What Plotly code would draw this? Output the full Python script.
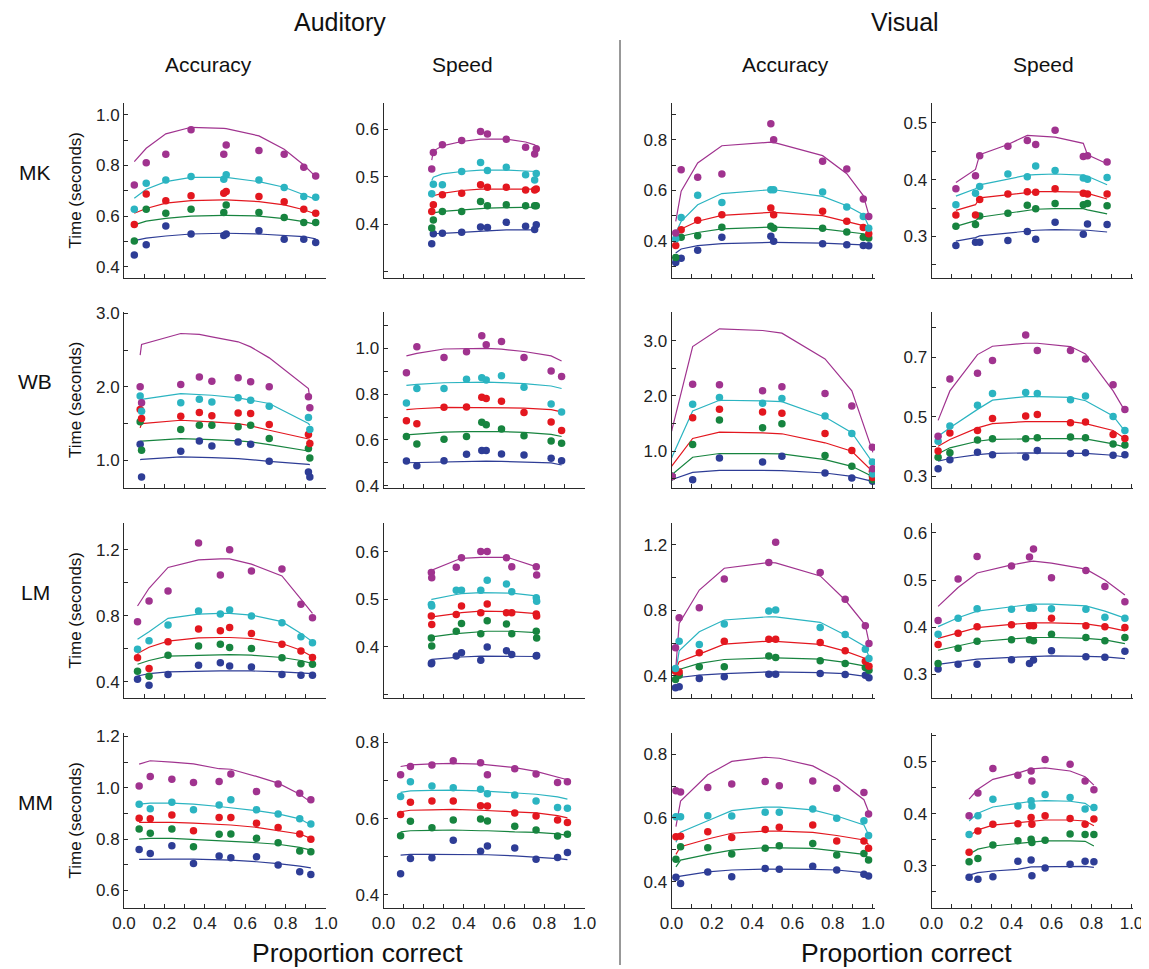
import plotly.graph_objects as go

# ---------------- data (quantile order: .1 .3 .5 .7 .9) ----------------
QUANTILE_COLORS = ["#2e3d96", "#17843f", "#e3171f", "#2bb4c1", "#a0338f"]
SUBJECTS = ["MK", "WB", "LM", "MM"]
MODALITIES = ["Auditory", "Visual"]
CONDITIONS = ["Accuracy", "Speed"]
X_TICKS = [0.0, 0.1, 0.2, 0.3, 0.4, 0.5, 0.6, 0.7, 0.8, 0.9, 1.0]
X_TICK_TEXT = ["0.0", "", "0.2", "", "0.4", "", "0.6", "", "0.8", "", "1.0"]

# MK
MK_AUD_ACC_X = [0.051, 0.110, 0.207, 0.332, 0.494, 0.506, 0.668, 0.793, 0.890, 0.949]
MK_AUD_ACC_OBS = [
    [0.446, 0.486, 0.561, 0.529, 0.523, 0.529, 0.542, 0.508, 0.508, 0.495],
    [0.501, 0.627, 0.611, 0.627, 0.614, 0.644, 0.614, 0.594, 0.574, 0.574],
    [0.567, 0.687, 0.660, 0.680, 0.690, 0.697, 0.677, 0.657, 0.627, 0.611],
    [0.627, 0.730, 0.743, 0.756, 0.745, 0.763, 0.743, 0.713, 0.677, 0.674],
    [0.723, 0.811, 0.844, 0.941, 0.844, 0.881, 0.859, 0.844, 0.793, 0.758]]
MK_AUD_ACC_FIT = [
    [0.503, 0.513, 0.521, 0.529, 0.532, 0.532, 0.529, 0.524, 0.519, 0.510],
    [0.565, 0.580, 0.591, 0.600, 0.603, 0.603, 0.600, 0.590, 0.578, 0.567],
    [0.611, 0.630, 0.651, 0.661, 0.664, 0.664, 0.657, 0.644, 0.625, 0.608],
    [0.670, 0.706, 0.736, 0.753, 0.753, 0.753, 0.736, 0.714, 0.684, 0.666],
    [0.815, 0.868, 0.925, 0.951, 0.947, 0.946, 0.917, 0.864, 0.802, 0.756]]

MK_AUD_SPD_X = [0.240, 0.248, 0.293, 0.389, 0.483, 0.517, 0.611, 0.707, 0.752, 0.760]
MK_AUD_SPD_OBS = [
    [0.359, 0.380, 0.381, 0.383, 0.394, 0.393, 0.404, 0.396, 0.389, 0.399],
    [0.392, 0.409, 0.427, 0.427, 0.448, 0.439, 0.441, 0.439, 0.439, 0.439],
    [0.427, 0.441, 0.462, 0.465, 0.483, 0.478, 0.478, 0.472, 0.472, 0.474],
    [0.464, 0.484, 0.483, 0.511, 0.530, 0.513, 0.520, 0.504, 0.493, 0.507],
    [0.516, 0.551, 0.567, 0.576, 0.595, 0.590, 0.579, 0.562, 0.548, 0.559]]
MK_AUD_SPD_FIT = [
    [0.380, 0.380, 0.381, 0.383, 0.386, 0.386, 0.388, 0.388, 0.388, 0.388],
    [0.422, 0.424, 0.427, 0.430, 0.434, 0.434, 0.435, 0.436, 0.436, 0.436],
    [0.457, 0.460, 0.465, 0.471, 0.474, 0.474, 0.474, 0.474, 0.474, 0.474],
    [0.492, 0.499, 0.506, 0.511, 0.514, 0.514, 0.514, 0.512, 0.511, 0.511],
    [0.535, 0.554, 0.565, 0.574, 0.579, 0.579, 0.579, 0.573, 0.567, 0.564]]

MK_VIS_ACC_X = [0.021, 0.048, 0.130, 0.250, 0.493, 0.507, 0.750, 0.870, 0.952, 0.979]
MK_VIS_ACC_OBS = [
    [0.317, 0.334, 0.365, 0.416, 0.420, 0.400, 0.391, 0.387, 0.384, 0.383],
    [0.337, 0.416, 0.422, 0.456, 0.459, 0.452, 0.452, 0.437, 0.416, 0.413],
    [0.384, 0.446, 0.483, 0.505, 0.531, 0.505, 0.518, 0.479, 0.455, 0.430],
    [0.410, 0.494, 0.581, 0.553, 0.603, 0.603, 0.594, 0.535, 0.498, 0.452],
    [0.433, 0.682, 0.652, 0.665, 0.862, 0.800, 0.715, 0.685, 0.567, 0.498]]
MK_VIS_ACC_FIT = [
    [0.354, 0.370, 0.383, 0.391, 0.396, 0.396, 0.393, 0.390, 0.386, 0.383],
    [0.400, 0.420, 0.435, 0.449, 0.456, 0.456, 0.449, 0.439, 0.430, 0.422],
    [0.413, 0.449, 0.479, 0.502, 0.514, 0.514, 0.501, 0.479, 0.462, 0.446],
    [0.433, 0.479, 0.544, 0.588, 0.603, 0.603, 0.577, 0.540, 0.505, 0.459],
    [0.479, 0.597, 0.708, 0.776, 0.790, 0.789, 0.737, 0.666, 0.580, 0.505]]

MK_VIS_SPD_X = [0.122, 0.220, 0.241, 0.382, 0.479, 0.521, 0.618, 0.759, 0.780, 0.878]
MK_VIS_SPD_OBS = [
    [0.284, 0.290, 0.290, 0.293, 0.309, 0.295, 0.325, 0.304, 0.322, 0.321],
    [0.318, 0.321, 0.336, 0.341, 0.355, 0.349, 0.358, 0.356, 0.358, 0.354],
    [0.338, 0.338, 0.365, 0.375, 0.379, 0.378, 0.384, 0.376, 0.375, 0.375],
    [0.356, 0.376, 0.388, 0.410, 0.405, 0.424, 0.416, 0.403, 0.401, 0.404],
    [0.384, 0.407, 0.442, 0.459, 0.469, 0.462, 0.487, 0.441, 0.442, 0.431]]
MK_VIS_SPD_FIT = [
    [0.292, 0.298, 0.301, 0.306, 0.310, 0.311, 0.312, 0.312, 0.311, 0.308],
    [0.318, 0.328, 0.334, 0.341, 0.347, 0.348, 0.349, 0.349, 0.347, 0.340],
    [0.346, 0.356, 0.368, 0.374, 0.378, 0.379, 0.379, 0.378, 0.376, 0.366],
    [0.371, 0.384, 0.391, 0.401, 0.408, 0.409, 0.410, 0.408, 0.406, 0.391],
    [0.395, 0.418, 0.444, 0.462, 0.478, 0.477, 0.475, 0.464, 0.444, 0.428]]

# WB
WB_AUD_ACC_X = [0.080, 0.087, 0.281, 0.373, 0.435, 0.565, 0.627, 0.719, 0.913, 0.920]
WB_AUD_ACC_OBS = [
    [1.218, 0.773, 1.123, 1.264, 1.195, 1.250, 1.218, 0.986, 0.841, 0.773],
    [1.523, 1.136, 1.418, 1.477, 1.477, 1.455, 1.477, 1.295, 1.159, 1.032],
    [1.691, 1.568, 1.600, 1.650, 1.605, 1.645, 1.636, 1.486, 1.350, 1.227],
    [1.877, 1.668, 1.782, 1.832, 1.795, 1.850, 1.818, 1.736, 1.582, 1.418],
    [2.000, 1.782, 2.032, 2.136, 2.077, 2.123, 2.068, 2.000, 1.864, 1.714]]
WB_AUD_ACC_FIT = [
    [1.009, 1.012, 1.045, 1.042, 1.036, 1.023, 1.012, 0.986, 0.945, 0.941],
    [1.259, 1.262, 1.295, 1.290, 1.282, 1.264, 1.250, 1.214, 1.130, 1.123],
    [1.441, 1.500, 1.545, 1.535, 1.523, 1.500, 1.470, 1.409, 1.300, 1.286],
    [1.818, 1.830, 1.909, 1.895, 1.886, 1.850, 1.818, 1.773, 1.500, 1.477],
    [2.432, 2.577, 2.727, 2.714, 2.682, 2.614, 2.545, 2.395, 1.977, 1.840]]

WB_AUD_SPD_X = [0.114, 0.166, 0.301, 0.413, 0.489, 0.511, 0.587, 0.699, 0.834, 0.886]
WB_AUD_SPD_OBS = [
    [0.508, 0.488, 0.510, 0.538, 0.554, 0.554, 0.539, 0.535, 0.520, 0.510],
    [0.615, 0.583, 0.603, 0.615, 0.677, 0.666, 0.648, 0.618, 0.596, 0.586],
    [0.684, 0.671, 0.742, 0.744, 0.786, 0.780, 0.769, 0.720, 0.678, 0.641],
    [0.761, 0.824, 0.824, 0.864, 0.871, 0.861, 0.879, 0.830, 0.757, 0.722],
    [0.893, 1.006, 0.959, 0.984, 1.054, 1.015, 1.029, 0.959, 0.900, 0.876]]
WB_AUD_SPD_FIT = [
    [0.501, 0.502, 0.505, 0.507, 0.508, 0.508, 0.507, 0.505, 0.500, 0.491],
    [0.622, 0.626, 0.634, 0.636, 0.637, 0.637, 0.636, 0.633, 0.624, 0.615],
    [0.732, 0.736, 0.742, 0.742, 0.742, 0.742, 0.741, 0.739, 0.732, 0.722],
    [0.838, 0.842, 0.849, 0.851, 0.852, 0.852, 0.850, 0.845, 0.835, 0.824],
    [0.966, 0.977, 0.996, 0.998, 0.999, 0.999, 0.995, 0.985, 0.966, 0.944]]

WB_VIS_ACC_X = [0.001, 0.003, 0.105, 0.238, 0.452, 0.548, 0.762, 0.895, 0.997, 0.999]
WB_VIS_ACC_OBS = [
    [0.545, 0.545, 0.485, 0.879, 0.806, 0.909, 0.606, 0.515, 0.470, 0.455],
    [0.545, 0.545, 1.121, 1.564, 1.424, 1.497, 0.921, 0.727, 0.550, 0.485],
    [0.545, 0.545, 1.606, 1.758, 1.709, 1.685, 1.321, 1.012, 0.636, 0.527],
    [0.545, 0.545, 1.848, 1.970, 1.867, 1.952, 1.636, 1.321, 0.806, 0.590],
    [0.545, 0.545, 2.212, 2.200, 2.091, 2.164, 2.042, 1.818, 1.073, 0.685]]
WB_VIS_ACC_FIT = [
    [0.485, 0.490, 0.618, 0.655, 0.655, 0.648, 0.606, 0.545, 0.455, 0.450],
    [0.576, 0.580, 0.891, 0.958, 0.958, 0.952, 0.848, 0.727, 0.545, 0.520],
    [0.727, 0.740, 1.230, 1.345, 1.333, 1.315, 1.152, 1.000, 0.636, 0.600],
    [0.879, 0.900, 1.727, 1.921, 1.909, 1.897, 1.618, 1.333, 0.800, 0.750],
    [1.364, 1.400, 2.891, 3.212, 3.182, 3.133, 2.667, 2.091, 1.012, 0.980]]

WB_VIS_SPD_X = [0.033, 0.092, 0.230, 0.305, 0.471, 0.529, 0.695, 0.770, 0.908, 0.967]
WB_VIS_SPD_OBS = [
    [0.326, 0.356, 0.381, 0.373, 0.365, 0.387, 0.377, 0.379, 0.371, 0.373],
    [0.364, 0.379, 0.422, 0.426, 0.426, 0.430, 0.432, 0.430, 0.409, 0.405],
    [0.385, 0.446, 0.454, 0.494, 0.503, 0.508, 0.480, 0.483, 0.441, 0.427],
    [0.418, 0.469, 0.539, 0.578, 0.582, 0.578, 0.557, 0.570, 0.501, 0.454],
    [0.435, 0.627, 0.646, 0.689, 0.775, 0.723, 0.723, 0.694, 0.608, 0.525]]
WB_VIS_SPD_FIT = [
    [0.351, 0.360, 0.373, 0.377, 0.379, 0.379, 0.379, 0.377, 0.371, 0.365],
    [0.376, 0.396, 0.418, 0.424, 0.426, 0.427, 0.427, 0.426, 0.409, 0.398],
    [0.401, 0.424, 0.463, 0.477, 0.484, 0.484, 0.484, 0.477, 0.454, 0.427],
    [0.435, 0.463, 0.525, 0.556, 0.568, 0.568, 0.565, 0.554, 0.503, 0.452],
    [0.488, 0.587, 0.709, 0.737, 0.747, 0.747, 0.736, 0.711, 0.587, 0.520]]

# LM
LM_AUD_ACC_X = [0.067, 0.124, 0.218, 0.369, 0.477, 0.523, 0.631, 0.782, 0.876, 0.933]
LM_AUD_ACC_OBS = [
    [0.416, 0.380, 0.445, 0.501, 0.516, 0.497, 0.491, 0.445, 0.441, 0.441],
    [0.465, 0.434, 0.562, 0.617, 0.629, 0.609, 0.603, 0.546, 0.511, 0.507],
    [0.546, 0.481, 0.643, 0.720, 0.710, 0.730, 0.694, 0.629, 0.588, 0.548],
    [0.598, 0.649, 0.744, 0.829, 0.811, 0.836, 0.799, 0.758, 0.674, 0.637],
    [0.765, 0.890, 0.951, 1.241, 1.048, 1.200, 1.072, 1.083, 0.870, 0.789]]
LM_AUD_ACC_FIT = [
    [0.436, 0.450, 0.461, 0.467, 0.467, 0.467, 0.467, 0.461, 0.456, 0.451],
    [0.507, 0.530, 0.556, 0.562, 0.566, 0.566, 0.562, 0.548, 0.530, 0.511],
    [0.572, 0.610, 0.647, 0.667, 0.669, 0.669, 0.663, 0.633, 0.592, 0.552],
    [0.659, 0.704, 0.785, 0.811, 0.815, 0.815, 0.805, 0.765, 0.694, 0.643],
    [0.860, 0.967, 1.093, 1.139, 1.145, 1.145, 1.113, 1.042, 0.902, 0.815]]

LM_AUD_SPD_X = [0.238, 0.240, 0.362, 0.388, 0.484, 0.516, 0.612, 0.638, 0.760, 0.762]
LM_AUD_SPD_OBS = [
    [0.365, 0.367, 0.381, 0.388, 0.372, 0.400, 0.392, 0.384, 0.381, 0.382],
    [0.419, 0.402, 0.433, 0.449, 0.428, 0.455, 0.448, 0.428, 0.433, 0.419],
    [0.465, 0.447, 0.468, 0.486, 0.472, 0.490, 0.472, 0.472, 0.469, 0.465],
    [0.489, 0.486, 0.519, 0.519, 0.519, 0.540, 0.532, 0.516, 0.503, 0.496],
    [0.556, 0.545, 0.567, 0.587, 0.600, 0.600, 0.587, 0.568, 0.568, 0.551]]
LM_AUD_SPD_FIT = [
    [0.374, 0.374, 0.378, 0.379, 0.381, 0.381, 0.381, 0.381, 0.380, 0.380],
    [0.421, 0.421, 0.428, 0.429, 0.433, 0.433, 0.433, 0.433, 0.430, 0.430],
    [0.463, 0.463, 0.470, 0.472, 0.475, 0.475, 0.475, 0.474, 0.470, 0.470],
    [0.500, 0.500, 0.510, 0.512, 0.514, 0.514, 0.514, 0.513, 0.507, 0.507],
    [0.552, 0.561, 0.582, 0.586, 0.588, 0.588, 0.588, 0.585, 0.568, 0.568]]

LM_VIS_ACC_X = [0.020, 0.038, 0.138, 0.262, 0.483, 0.517, 0.738, 0.862, 0.962, 0.980]
LM_VIS_ACC_OBS = [
    [0.327, 0.333, 0.384, 0.394, 0.410, 0.410, 0.414, 0.408, 0.404, 0.388],
    [0.378, 0.404, 0.455, 0.455, 0.522, 0.512, 0.492, 0.475, 0.451, 0.435],
    [0.429, 0.424, 0.541, 0.612, 0.624, 0.624, 0.604, 0.553, 0.490, 0.459],
    [0.445, 0.612, 0.592, 0.716, 0.796, 0.802, 0.696, 0.653, 0.563, 0.506],
    [0.571, 0.755, 0.816, 0.992, 1.092, 1.216, 1.031, 0.867, 0.706, 0.598]]
LM_VIS_ACC_FIT = [
    [0.373, 0.390, 0.404, 0.414, 0.424, 0.424, 0.420, 0.414, 0.400, 0.394],
    [0.404, 0.439, 0.476, 0.500, 0.510, 0.510, 0.502, 0.482, 0.460, 0.449],
    [0.435, 0.486, 0.533, 0.594, 0.612, 0.611, 0.592, 0.551, 0.506, 0.486],
    [0.414, 0.553, 0.669, 0.741, 0.761, 0.760, 0.727, 0.649, 0.578, 0.516],
    [0.424, 0.720, 0.924, 1.057, 1.092, 1.090, 1.010, 0.863, 0.710, 0.604]]

LM_VIS_SPD_X = [0.033, 0.133, 0.228, 0.400, 0.490, 0.510, 0.600, 0.772, 0.867, 0.967]
LM_VIS_SPD_OBS = [
    [0.311, 0.321, 0.321, 0.331, 0.323, 0.330, 0.350, 0.337, 0.336, 0.349],
    [0.323, 0.355, 0.370, 0.373, 0.373, 0.371, 0.385, 0.378, 0.371, 0.378],
    [0.363, 0.387, 0.401, 0.405, 0.403, 0.403, 0.419, 0.403, 0.401, 0.399],
    [0.385, 0.419, 0.439, 0.438, 0.440, 0.440, 0.439, 0.438, 0.421, 0.419],
    [0.414, 0.502, 0.550, 0.530, 0.549, 0.566, 0.505, 0.520, 0.486, 0.454]]
LM_VIS_SPD_FIT = [
    [0.321, 0.326, 0.332, 0.336, 0.338, 0.338, 0.339, 0.338, 0.337, 0.333],
    [0.351, 0.360, 0.369, 0.375, 0.378, 0.378, 0.378, 0.376, 0.373, 0.365],
    [0.376, 0.387, 0.399, 0.406, 0.409, 0.409, 0.409, 0.407, 0.401, 0.392],
    [0.401, 0.420, 0.434, 0.444, 0.449, 0.449, 0.449, 0.445, 0.434, 0.419],
    [0.444, 0.484, 0.515, 0.532, 0.539, 0.540, 0.536, 0.523, 0.500, 0.468]]

# MM
MM_AUD_ACC_X = [0.075, 0.130, 0.237, 0.344, 0.471, 0.529, 0.656, 0.763, 0.870, 0.925]
MM_AUD_ACC_OBS = [
    [0.760, 0.744, 0.774, 0.705, 0.734, 0.728, 0.731, 0.699, 0.673, 0.662],
    [0.839, 0.823, 0.839, 0.770, 0.819, 0.820, 0.803, 0.786, 0.754, 0.751],
    [0.881, 0.879, 0.894, 0.833, 0.884, 0.884, 0.862, 0.845, 0.820, 0.800],
    [0.936, 0.918, 0.944, 0.914, 0.933, 0.953, 0.914, 0.898, 0.879, 0.859],
    [1.007, 1.044, 1.033, 1.020, 1.024, 1.053, 0.985, 1.015, 0.979, 0.953]]
MM_AUD_ACC_FIT = [
    [0.721, 0.722, 0.722, 0.722, 0.719, 0.718, 0.712, 0.705, 0.695, 0.688],
    [0.800, 0.803, 0.803, 0.799, 0.794, 0.792, 0.786, 0.780, 0.768, 0.757],
    [0.865, 0.865, 0.865, 0.862, 0.857, 0.855, 0.846, 0.833, 0.820, 0.803],
    [0.936, 0.940, 0.940, 0.936, 0.927, 0.922, 0.911, 0.898, 0.879, 0.855],
    [1.092, 1.105, 1.100, 1.093, 1.074, 1.072, 1.044, 1.018, 0.975, 0.944]]

MM_AUD_SPD_X = [0.085, 0.134, 0.241, 0.347, 0.483, 0.517, 0.653, 0.759, 0.866, 0.915]
MM_AUD_SPD_OBS = [
    [0.455, 0.495, 0.497, 0.543, 0.514, 0.528, 0.523, 0.493, 0.498, 0.511],
    [0.555, 0.593, 0.576, 0.596, 0.599, 0.594, 0.580, 0.570, 0.554, 0.559],
    [0.611, 0.643, 0.646, 0.646, 0.634, 0.633, 0.615, 0.607, 0.596, 0.590],
    [0.658, 0.697, 0.686, 0.681, 0.677, 0.665, 0.662, 0.646, 0.629, 0.627],
    [0.715, 0.737, 0.741, 0.752, 0.747, 0.715, 0.731, 0.717, 0.695, 0.697]]
MM_AUD_SPD_FIT = [
    [0.504, 0.506, 0.506, 0.506, 0.506, 0.505, 0.502, 0.499, 0.495, 0.492],
    [0.565, 0.568, 0.569, 0.570, 0.568, 0.568, 0.565, 0.564, 0.560, 0.556],
    [0.618, 0.622, 0.623, 0.624, 0.622, 0.621, 0.618, 0.615, 0.608, 0.602],
    [0.669, 0.673, 0.674, 0.675, 0.673, 0.672, 0.668, 0.664, 0.657, 0.651],
    [0.737, 0.741, 0.744, 0.745, 0.743, 0.741, 0.734, 0.724, 0.710, 0.702]]

MM_VIS_ACC_X = [0.022, 0.045, 0.180, 0.299, 0.465, 0.535, 0.701, 0.820, 0.955, 0.978]
MM_VIS_ACC_OBS = [
    [0.414, 0.395, 0.431, 0.416, 0.442, 0.439, 0.449, 0.437, 0.424, 0.418],
    [0.471, 0.510, 0.507, 0.487, 0.505, 0.513, 0.520, 0.484, 0.489, 0.468],
    [0.541, 0.543, 0.557, 0.539, 0.564, 0.571, 0.578, 0.528, 0.528, 0.505],
    [0.604, 0.604, 0.607, 0.606, 0.618, 0.618, 0.628, 0.599, 0.591, 0.545],
    [0.685, 0.681, 0.695, 0.706, 0.714, 0.701, 0.716, 0.693, 0.680, 0.612]]
MM_VIS_ACC_FIT = [
    [0.414, 0.418, 0.431, 0.437, 0.440, 0.440, 0.439, 0.437, 0.429, 0.423],
    [0.447, 0.468, 0.486, 0.499, 0.507, 0.507, 0.505, 0.496, 0.486, 0.475],
    [0.486, 0.510, 0.534, 0.552, 0.559, 0.559, 0.555, 0.545, 0.531, 0.517],
    [0.524, 0.555, 0.591, 0.623, 0.634, 0.634, 0.625, 0.606, 0.578, 0.547],
    [0.573, 0.653, 0.735, 0.777, 0.790, 0.787, 0.763, 0.723, 0.657, 0.620]]

MM_VIS_SPD_X = [0.188, 0.232, 0.307, 0.432, 0.498, 0.502, 0.568, 0.693, 0.768, 0.812]
MM_VIS_SPD_OBS = [
    [0.278, 0.274, 0.279, 0.309, 0.311, 0.281, 0.296, 0.303, 0.309, 0.308],
    [0.308, 0.314, 0.340, 0.348, 0.351, 0.345, 0.349, 0.361, 0.360, 0.360],
    [0.326, 0.367, 0.380, 0.381, 0.393, 0.380, 0.396, 0.391, 0.380, 0.390],
    [0.360, 0.396, 0.428, 0.415, 0.425, 0.415, 0.437, 0.431, 0.409, 0.412],
    [0.396, 0.440, 0.487, 0.474, 0.482, 0.463, 0.504, 0.495, 0.463, 0.446]]
MM_VIS_SPD_FIT = [
    [0.282, 0.287, 0.290, 0.293, 0.298, 0.298, 0.299, 0.299, 0.299, 0.297],
    [0.322, 0.332, 0.338, 0.343, 0.346, 0.346, 0.348, 0.348, 0.347, 0.338],
    [0.357, 0.369, 0.378, 0.383, 0.386, 0.386, 0.388, 0.388, 0.386, 0.377],
    [0.386, 0.401, 0.413, 0.420, 0.424, 0.424, 0.425, 0.424, 0.420, 0.408],
    [0.428, 0.447, 0.466, 0.478, 0.486, 0.486, 0.488, 0.482, 0.471, 0.455]]


def ticks(lo, hi, step, labelled):
    n = int(round((hi - lo) / step))
    vals = [round(lo + i * step, 3) for i in range(n + 1)]
    text = []
    for v in vals:
        lab = ""
        for L in labelled:
            if abs(L - v) < 1e-6:
                lab = f"{v:.1f}"
        text.append(lab)
    return vals, text


# (x, obs, fit, y-range, tick spec)
PANELS = [
    [(MK_AUD_ACC_X, MK_AUD_ACC_OBS, MK_AUD_ACC_FIT, [0.355, 1.047], (0.4, 1.0, 0.1, [0.4, 0.6, 0.8, 1.0])),
     (MK_AUD_SPD_X, MK_AUD_SPD_OBS, MK_AUD_SPD_FIT, [0.287, 0.655], (0.3, 0.6, 0.1, [0.4, 0.5, 0.6])),
     (MK_VIS_ACC_X, MK_VIS_ACC_OBS, MK_VIS_ACC_FIT, [0.256, 0.944], (0.3, 0.9, 0.1, [0.4, 0.6, 0.8])),
     (MK_VIS_SPD_X, MK_VIS_SPD_OBS, MK_VIS_SPD_FIT, [0.227, 0.535], (0.25, 0.5, 0.05, [0.3, 0.4, 0.5]))],
    [(WB_AUD_ACC_X, WB_AUD_ACC_OBS, WB_AUD_ACC_FIT, [0.622, 3.02], (1.0, 3.0, 0.5, [1.0, 2.0, 3.0])),
     (WB_AUD_SPD_X, WB_AUD_SPD_OBS, WB_AUD_SPD_FIT, [0.391, 1.157], (0.4, 1.1, 0.1, [0.4, 0.6, 0.8, 1.0])),
     (WB_VIS_ACC_X, WB_VIS_ACC_OBS, WB_VIS_ACC_FIT, [0.335, 3.516], (0.5, 3.5, 0.5, [1.0, 2.0, 3.0])),
     (WB_VIS_SPD_X, WB_VIS_SPD_OBS, WB_VIS_SPD_FIT, [0.261, 0.852], (0.3, 0.8, 0.1, [0.3, 0.5, 0.7]))],
    [(LM_AUD_ACC_X, LM_AUD_ACC_OBS, LM_AUD_ACC_FIT, [0.303, 1.362], (0.4, 1.2, 0.2, [0.4, 0.8, 1.2])),
     (LM_AUD_SPD_X, LM_AUD_SPD_OBS, LM_AUD_SPD_FIT, [0.293, 0.660], (0.3, 0.6, 0.1, [0.4, 0.5, 0.6])),
     (LM_VIS_ACC_X, LM_VIS_ACC_OBS, LM_VIS_ACC_FIT, [0.265, 1.333], (0.4, 1.2, 0.2, [0.4, 0.8, 1.2])),
     (LM_VIS_SPD_X, LM_VIS_SPD_OBS, LM_VIS_SPD_FIT, [0.2496, 0.621], (0.3, 0.6, 0.1, [0.3, 0.4, 0.5, 0.6]))],
    [(MM_AUD_ACC_X, MM_AUD_ACC_OBS, MM_AUD_ACC_FIT, [0.532, 1.213], (0.6, 1.2, 0.1, [0.6, 0.8, 1.0, 1.2])),
     (MM_AUD_SPD_X, MM_AUD_SPD_OBS, MM_AUD_SPD_FIT, [0.365, 0.825], (0.4, 0.8, 0.1, [0.4, 0.6, 0.8])),
     (MM_VIS_ACC_X, MM_VIS_ACC_OBS, MM_VIS_ACC_FIT, [0.318, 0.866], (0.4, 0.8, 0.1, [0.4, 0.6, 0.8])),
     (MM_VIS_SPD_X, MM_VIS_SPD_OBS, MM_VIS_SPD_FIT, [0.219, 0.555], (0.25, 0.55, 0.05, [0.3, 0.4, 0.5]))],
]

# page offset: the HTML body adds an 8px margin, so the figure is shrunk and positions shifted
OFF = 8
W, H = 1149 - OFF, 969 - OFF
COL_PX = [(124, 326, 1.0), (383.5, 584.5, 1.0), (671.5, 875, 1.01), (931.5, 1133, 1.0075)]
ROW_PX = [(103, 278), (312, 488), (523, 698), (733, 908)]
FONT = "Liberation Sans, Arial, Helvetica, sans-serif"
AXIS_COLOR = "#2a2a2a"


def fx(p):
    return (p - OFF) / W


def fy(p):
    return 1 - (p - OFF) / H


fig = go.Figure()
layout_axes = {}
for r in range(4):
    for c in range(4):
        k = r * 4 + c + 1
        xs = "x" if k == 1 else f"x{k}"
        ys = "y" if k == 1 else f"y{k}"
        X, OBS, FIT, yr, tspec = PANELS[r][c]
        for q in range(5):
            fig.add_trace(go.Scatter(x=X, y=FIT[q], mode="lines", xaxis=xs, yaxis=ys,
                                     line=dict(color=QUANTILE_COLORS[q], width=1.2),
                                     showlegend=False, hoverinfo="skip"))
        for q in range(5):
            fig.add_trace(go.Scatter(x=X, y=OBS[q], mode="markers", xaxis=xs, yaxis=ys,
                                     marker=dict(color=QUANTILE_COLORS[q], size=7.5, line=dict(width=0)),
                                     showlegend=False))
        x0, x1, xmax = COL_PX[c]
        t0, t1 = ROW_PX[r]
        yv, yt = ticks(*tspec)
        common = dict(showline=True, linecolor=AXIS_COLOR, linewidth=1, ticks="inside", ticklen=4,
                      tickcolor=AXIS_COLOR, tickwidth=1, showgrid=False, zeroline=False,
                      automargin=False, fixedrange=True,
                      tickfont=dict(family=FONT, size=17, color="#222"))
        layout_axes["xaxis" if k == 1 else f"xaxis{k}"] = dict(
            domain=[fx(x0), fx(x1)], range=[0, xmax], anchor=ys,
            tickvals=X_TICKS, ticktext=X_TICK_TEXT if r == 3 else [""] * len(X_TICKS), **common)
        layout_axes["yaxis" if k == 1 else f"yaxis{k}"] = dict(
            domain=[fy(t1), fy(t0)], range=yr, anchor=xs,
            tickvals=yv, ticktext=yt, **common)

annotations = []


def ann(text, xpx, ypx, size, angle=0):
    annotations.append(dict(text=text, x=fx(xpx), y=fy(ypx), xref="paper", yref="paper",
                            xanchor="center", yanchor="middle", showarrow=False, textangle=angle,
                            font=dict(family=FONT, size=size, color="#111")))


ann(MODALITIES[0], 340, 22, 25)
ann(MODALITIES[1], 905, 22, 25)
for cx, name in zip([208, 463, 785, 1043], CONDITIONS * 2):
    ann(name, cx, 64, 21)
for (t0, t1), subj in zip(ROW_PX, SUBJECTS):
    ann(subj, 35, (t0 + t1) / 2 - 18, 21)
    ann("Time (seconds)", 75, (t0 + t1) / 2, 17, -90)
ann("Proportion correct", 357, 953, 26.5)
ann("Proportion correct", 906, 953, 26.5)

fig.update_layout(
    template="none",
    width=W, height=H, margin=dict(l=0, r=0, t=0, b=0, pad=0, autoexpand=False),
    paper_bgcolor="white", plot_bgcolor="white",
    annotations=annotations,
    shapes=[dict(type="line", xref="paper", yref="paper", x0=fx(620), x1=fx(620),
                 y0=max(fy(965), 0), y1=fy(40), line=dict(color="#333", width=1))],
    **layout_axes)

fig.write_html("out.html")
